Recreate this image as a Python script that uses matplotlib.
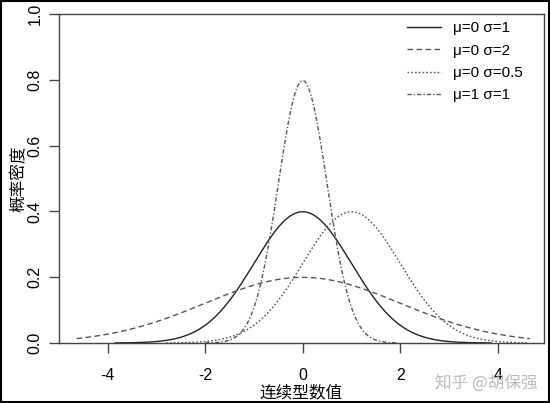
import numpy as np
import matplotlib
matplotlib.use("Agg")
import matplotlib.pyplot as plt
from matplotlib.lines import Line2D

plt.rcParams['font.family'] = ['Liberation Sans', 'Noto Sans CJK SC', 'DejaVu Sans']

# curve parameters (normal densities) and the x span each curve is drawn over
mus = [0, 0, 0, 1]
sigmas = [1, 2, 0.5, 1]
x_lo = [-3.85, -4.64, -2.0, -2.8]
x_hi = [3.86, 4.66, 1.95, 4.6]
labels = ['μ=0 σ=1', 'μ=0 σ=2', 'μ=0 σ=0.5', 'μ=1 σ=1']
xticks = [-4, -2, 0, 2, 4]
yticks = [0.0, 0.2, 0.4, 0.6, 0.8, 1.0]

# styles as they appear on the curves / in the legend
curve_styles = ['-', (0, (4, 2.5)), (0, (3, 1.5, 1, 1.5)), (0, (1.2, 1.5))]
legend_styles = ['-', (0, (4, 2.5)), (0, (1.2, 1.5)), (0, (3, 1.5, 1, 1.5))]
colors = ['#222222', '#555555', '#555555', '#555555']

fig = plt.figure(figsize=(5.5, 4.03), dpi=100)
ax = fig.add_axes([59 / 550, 60 / 403, 485 / 550, 329 / 403])

for mu, s, lo, hi, ls, c in zip(mus, sigmas, x_lo, x_hi, curve_styles, colors):
    x = np.linspace(lo, hi, 400)
    y = np.exp(-0.5 * ((x - mu) / s) ** 2) / (s * np.sqrt(2 * np.pi))
    ax.plot(x, y, linestyle=ls, color=c, lw=1.0)

ax.set_xlim(-5.0, 4.95)
ax.set_ylim(0, 1)
ax.set_xticks(xticks)
ax.set_xticklabels([str(t) for t in xticks], fontsize=11.5)
ax.set_yticks(yticks)
ax.set_yticklabels(['%.1f' % t for t in yticks], fontsize=11.5, rotation=90, va='center')
ax.tick_params(axis='x', length=7, width=1, color='#444444', pad=11)
ax.tick_params(axis='y', length=7, width=1, color='#444444', pad=5)
for sp in ax.spines.values():
    sp.set_color('#444444')
    sp.set_linewidth(1.0)

ax.set_xlabel('连续型数值', fontsize=12, family=['Noto Sans CJK SC'], labelpad=1)
ax.set_ylabel('概率密度', fontsize=12, family=['Noto Sans CJK SC'], labelpad=0)

handles = [Line2D([], [], linestyle=ls, color=c, lw=1.0) for ls, c in zip(legend_styles, colors)]
ax.legend(handles, labels, loc='upper right', bbox_to_anchor=(0.985, 1.02), frameon=False,
          fontsize=11, handlelength=2.2, handletextpad=0.8, labelspacing=0.55)

fig.text(0.978, 0.05, '知乎 @胡保强', ha='right', va='center', fontsize=12,
         color='#bbbbbb', family=['Noto Sans CJK SC', 'DejaVu Sans'])

# outer image border
fig.patches.append(plt.Rectangle((0.002, 0.002), 0.996, 0.996, transform=fig.transFigure,
                                 fill=False, edgecolor='black', lw=1.5))

fig.savefig('out.png', dpi=100)
